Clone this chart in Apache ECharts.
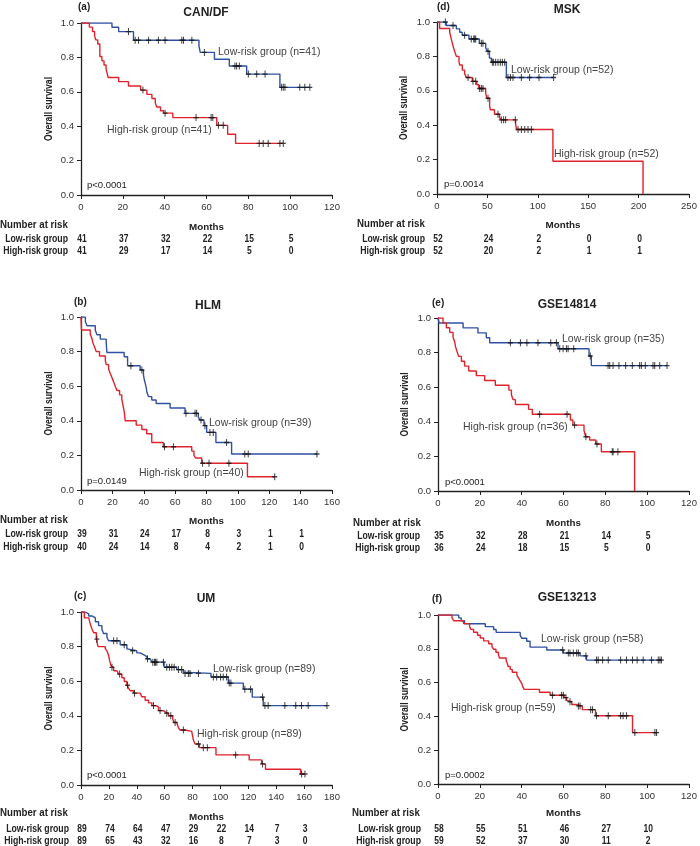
<!DOCTYPE html>
<html><head><meta charset="utf-8">
<script src="https://cdn.jsdelivr.net/npm/echarts@6/dist/echarts.min.js"></script>
<style>html,body{margin:0;padding:0;background:#fff}#c{width:700px;height:846px}</style>
</head><body><div id="c"></div>
<script>
// ---------- (a) CAN/DF ----------
const canLow = [[0,1],[14.8,0.975],[18,0.95],[25.1,0.90],[56.4,0.865],[57,0.829],[63.8,0.789],[70.9,0.75],[79.2,0.703],[95.1,0.626],[109.4,0.626]];
const canLowCens = [22.7,25.9,27.5,32.3,37,40.2,48.2,49,53,59,73.6,74.4,75.7,80,84,88,95.9,96.7,97.5,104.6,107,109.4];
const canHigh = [[0,1],[4,0.976],[5.5,0.951],[6.5,0.927],[7,0.902],[8,0.878],[9,0.805],[10,0.78],[11,0.756],[12,0.732],[12.5,0.707],[13,0.683],[18,0.659],[22.7,0.634],[28.5,0.61],[31.5,0.585],[33.9,0.561],[35.5,0.537],[36.2,0.512],[38,0.49],[39.5,0.476],[43.9,0.45],[64.9,0.405],[70.1,0.353],[73.9,0.30],[96.7,0.30]];
const canHighCens = [29.6,40.2,55,62.2,63,65.7,68,85.2,87.1,89.5,95.1,96.7];
const canRiskTicks = [0,20,40,60,80,100];
const canRiskLow = [41,37,32,22,15,5];
const canRiskHigh = [41,29,17,14,5,0];

// ---------- (d) MSK ----------
const mskLow = [[0,1],[9.3,0.98],[19.2,0.96],[22.5,0.94],[25,0.923],[31.7,0.901],[42,0.876],[48.3,0.85],[50,0.83],[52,0.79],[54,0.766],[68.8,0.677],[115.7,0.677]];
const mskLowCens = [8.3,15.9,27.4,34,36.4,37.4,38.4,44,45.6,50.6,54.9,56.2,58.2,60.5,62.8,64.8,67.1,70.4,72.8,75.4,83.7,91.9,101.2,115.7];
const mskHigh = [[0,1],[2.6,0.962],[12.6,0.94],[14.2,0.90],[15.9,0.86],[17.5,0.83],[19.2,0.80],[21.8,0.77],[22.5,0.75],[25.1,0.72],[27.4,0.70],[29.1,0.677],[35,0.655],[39.5,0.635],[41.5,0.613],[48.3,0.585],[49.5,0.557],[52.2,0.51],[53,0.49],[57,0.464],[62,0.445],[63.5,0.431],[78,0.405],[79,0.375],[115,0.19],[204.4,0]];
const mskHighCens = [30.8,35.7,38.4,42.3,44,45.6,50.6,60.5,63.8,66.1,68.1,77.7,80.4,83.7,87,90.3,93.6];
const mskRiskTicks = [0,50,100,150,200];
const mskRiskLow = [52,24,2,0,0];
const mskRiskHigh = [52,20,2,1,1];

// ---------- (b) HLM ----------
const hlmLow = [[0,1],[2.8,0.974],[3.8,0.949],[9.1,0.923],[10.2,0.897],[12.3,0.872],[16.1,0.846],[16.5,0.795],[27.5,0.77],[29.7,0.718],[37.7,0.694],[39.8,0.665],[40.3,0.64],[41,0.615],[41.6,0.59],[42,0.565],[43,0.54],[45.1,0.52],[47.9,0.50],[56.8,0.474],[66.3,0.443],[74.8,0.42],[76,0.405],[78.4,0.372],[80.1,0.333],[86,0.275],[96,0.208],[150.4,0.208]];
const hlmLowCens = [31.8,38.8,66.9,72.7,73.7,76.5,79,82.2,84.3,92.8,104.4,106.6,150.4];
const hlmHigh = [[0,1],[0.3,0.925],[5.9,0.90],[7,0.875],[7.6,0.85],[8.7,0.825],[9.7,0.80],[11.8,0.775],[15.5,0.75],[16.1,0.725],[17.6,0.70],[18.6,0.675],[19.7,0.65],[20.8,0.625],[21.8,0.60],[22.9,0.575],[24.6,0.55],[26,0.525],[27.1,0.475],[27.6,0.45],[28.2,0.40],[35.2,0.375],[38.8,0.35],[41.9,0.325],[45.1,0.275],[52.5,0.25],[70.6,0.225],[72,0.20],[73,0.185],[76.9,0.155],[106.1,0.077],[123.5,0.077]];
const hlmHighCens = [53.2,58.9,77.5,81.6,94.3,123.5];
const hlmRiskTicks = [0,20,40,60,80,100,120,140];
const hlmRiskLow = [39,31,24,17,8,3,1,1];
const hlmRiskHigh = [40,24,14,8,4,2,1,0];

// ---------- (e) GSE14814 ----------
const g148Low = [[0,1],[0.5,0.971],[12,0.943],[19.1,0.914],[23.1,0.886],[24.7,0.857],[57.4,0.822],[72.2,0.78],[73.3,0.725],[109.5,0.725]];
const g148LowCens = [34.6,39.4,42.5,47.8,53.9,56.6,58.2,59.8,61.4,62.2,64.9,72.8,81.3,82.1,83.7,86.5,89.7,92.9,96.4,97.2,99.1,102.8,103.6,106,109.5];
const g148High = [[0,1],[2.4,0.972],[4,0.944],[5.6,0.917],[7.2,0.889],[8,0.861],[8.4,0.833],[9.1,0.806],[9.9,0.778],[11.2,0.75],[12.7,0.722],[14.7,0.694],[18.3,0.667],[22.3,0.639],[27.4,0.611],[33.9,0.583],[35.1,0.556],[35.9,0.528],[37,0.50],[43.3,0.472],[45.1,0.444],[63.3,0.41],[64.5,0.381],[69.8,0.35],[70.6,0.314],[72.5,0.295],[75.4,0.272],[78.1,0.227],[94,0]];
const g148HighCens = [48.6,61.7,65.3,70.7,76,83.3,83.7,86];
const g148RiskTicks = [0,20,40,60,80,100];
const g148RiskLow = [35,32,28,21,14,5];
const g148RiskHigh = [36,24,18,15,5,0];

// ---------- (c) UM ----------
const umLow = [[0,1],[3.1,0.989],[5.5,0.977],[7.9,0.966],[10.3,0.944],[12.6,0.921],[15,0.899],[16.2,0.876],[18.6,0.854],[19.8,0.834],[28.1,0.811],[32.9,0.787],[33.4,0.776],[40,0.764],[42.4,0.753],[44.8,0.742],[47.2,0.73],[49.6,0.719],[50.8,0.71],[59.6,0.681],[68.7,0.667],[73.4,0.652],[74.2,0.645],[93.2,0.624],[105.6,0.589],[116.4,0.554],[122.8,0.508],[130.7,0.459],[176.4,0.459]];
const umLowCens = [23.4,25.8,31,37,47.7,51.5,52.7,53.4,54.4,59.1,61.5,63.4,65.1,66.8,69.9,72.2,74.6,77,78.2,84.2,94.9,97.3,100.1,102,104.4,106.3,107.5,117.5,121.6,130.2,131.9,134.2,146.2,154,158.1,162.9,176.4];
const umHigh = [[0,1],[2.4,0.966],[5.5,0.955],[6.7,0.93],[7.9,0.90],[9.1,0.88],[11,0.843],[12.2,0.80],[17.4,0.788],[18.6,0.775],[19.8,0.75],[20.5,0.72],[21.5,0.69],[22.1,0.68],[23.4,0.66],[25.8,0.65],[26.9,0.641],[29.3,0.62],[31,0.598],[32.9,0.577],[34.1,0.56],[35.3,0.545],[37.7,0.531],[42.4,0.52],[43.6,0.51],[46,0.49],[48.4,0.475],[50.8,0.459],[53.9,0.45],[55.6,0.43],[59.1,0.42],[60.8,0.415],[62.7,0.40],[65.8,0.38],[66.8,0.361],[68.7,0.35],[69.9,0.33],[71,0.318],[74.6,0.31],[79.4,0.30],[80.6,0.26],[81.8,0.237],[84.9,0.216],[96.8,0.174],[120.6,0.145],[129.5,0.122],[132.3,0.091],[157.5,0.064],[160.6,0.064]];
const umHighCens = [11.4,22.2,27.7,33.4,38.4,52,56.7,61.5,64.4,67.5,73.4,84.2,87.7,90.6,110.9,130.2,158.2,160.6];
const umRiskTicks = [0,20,40,60,80,100,120,140,160];
const umRiskLow = [89,74,64,47,29,22,14,7,3];
const umRiskHigh = [89,65,43,32,16,8,7,3,0];

// ---------- (f) GSE13213 ----------
const g132Low = [[0,1],[9.9,0.983],[11.1,0.966],[12.7,0.948],[22.6,0.931],[26.6,0.914],[27.8,0.897],[39.3,0.879],[40.1,0.862],[42.4,0.845],[44,0.81],[52,0.793],[59.9,0.775],[67.9,0.758],[71,0.733],[106.8,0.733]];
const g132LowCens = [59.6,62.3,63.1,64.7,66.3,67.1,70.7,75.8,76.6,78.7,81.4,87.3,90.1,93,95.2,98.1,102.1,105.3,106.1,106.8];
const g132High = [[0,1],[6.7,0.983],[7.5,0.966],[12.2,0.949],[15.1,0.932],[15.7,0.915],[17,0.898],[18.9,0.88],[20.2,0.864],[21.8,0.847],[24.2,0.83],[25.8,0.813],[26.6,0.797],[27.7,0.78],[28.9,0.763],[29.4,0.746],[32.6,0.729],[33.2,0.712],[33.5,0.695],[34.5,0.678],[35.5,0.661],[37.7,0.644],[38.5,0.627],[39.3,0.61],[40.1,0.593],[40.5,0.576],[41.2,0.56],[48.5,0.543],[53.6,0.525],[60.3,0.511],[61.5,0.495],[62.3,0.487],[63.9,0.47],[66.3,0.462],[69,0.44],[75.3,0.404],[93,0.304],[104.5,0.304]];
const g132HighCens = [54.7,59.1,59.9,61.2,63.1,67.1,67.9,73,73.9,75.8,81.4,87.3,88.5,90.1,94.1,103.7,104.5];
const g132RiskTicks = [0,20,40,60,80,100];
const g132RiskLow = [58,55,51,46,27,10];
const g132RiskHigh = [59,52,37,30,11,2];

// ---------- layout / styling ----------
const BLUE = '#2f51a3', RED = '#e0222c', INK = '#222';
const FONT = "'Liberation Sans', Arial, sans-serif";

const panels = [
  {tag:'(a)', title:'CAN/DF', low:canLow, lowC:canLowCens, high:canHigh, highC:canHighCens,
   lowLabel:'Low-risk group (n=41)', highLabel:'High-risk group (n=41)', p:'p<0.0001',
   xMax:120, xInt:20, rt:canRiskTicks, rl:canRiskLow, rh:canRiskHigh,
   g:{left:81,top:23,width:251,height:172}, tagXY:[78,7], titleXY:[206,13], lowXY:[218,52], highXY:[107,130], pXY:[87,185],
   yNameX:49, monthsGap:27, narX:0, labR:68, narY:225, lowY:239, highY:251},
  {tag:'(d)', title:'MSK', low:mskLow, lowC:mskLowCens, high:mskHigh, highC:mskHighCens,
   lowLabel:'Low-risk group (n=52)', highLabel:'High-risk group (n=52)', p:'p=0.0014',
   xMax:250, xInt:50, rt:mskRiskTicks, rl:mskRiskLow, rh:mskRiskHigh,
   g:{left:437,top:22,width:252,height:172}, tagXY:[437,7], titleXY:[567,10], lowXY:[511,70], highXY:[554,154], pXY:[444,184],
   yNameX:404, monthsGap:26, narX:357, labR:425, narY:224, lowY:239, highY:251},
  {tag:'(b)', title:'HLM', low:hlmLow, lowC:hlmLowCens, high:hlmHigh, highC:hlmHighCens,
   lowLabel:'Low-risk group (n=39)', highLabel:'High-risk group (n=40)', p:'p=0.0149',
   xMax:160, xInt:20, rt:hlmRiskTicks, rl:hlmRiskLow, rh:hlmRiskHigh,
   g:{left:81,top:317,width:251,height:173}, tagXY:[74,302], titleXY:[208,306], lowXY:[209,423], highXY:[139,473], pXY:[87,481],
   yNameX:49, monthsGap:26, narX:0, labR:68, narY:520, lowY:534, highY:547},
  {tag:'(e)', title:'GSE14814', low:g148Low, lowC:g148LowCens, high:g148High, highC:g148HighCens,
   lowLabel:'Low-risk group (n=35)', highLabel:'High-risk group (n=36)', p:'p<0.0001',
   xMax:120, xInt:20, rt:g148RiskTicks, rl:g148RiskLow, rh:g148RiskHigh,
   g:{left:438,top:318,width:251,height:173}, tagXY:[432,303], titleXY:[567,305], lowXY:[562,339], highXY:[463,427], pXY:[445,482],
   yNameX:405, monthsGap:27, narX:353, labR:420, narY:523, lowY:536, highY:548},
  {tag:'(c)', title:'UM', low:umLow, lowC:umLowCens, high:umHigh, highC:umHighCens,
   lowLabel:'Low-risk group (n=89)', highLabel:'High-risk group (n=89)', p:'p<0.0001',
   xMax:180, xInt:20, rt:umRiskTicks, rl:umRiskLow, rh:umRiskHigh,
   g:{left:81,top:612,width:251,height:173}, tagXY:[74,596], titleXY:[206,599], lowXY:[213,669], highXY:[197,734], pXY:[87,775],
   yNameX:49, monthsGap:27, narX:0, labR:69, narY:813, lowY:829, highY:841},
  {tag:'(f)', title:'GSE13213', low:g132Low, lowC:g132LowCens, high:g132High, highC:g132HighCens,
   lowLabel:'Low-risk group (n=58)', highLabel:'High-risk group (n=59)', p:'p=0.0002',
   xMax:120, xInt:20, rt:g132RiskTicks, rl:g132RiskLow, rh:g132RiskHigh,
   g:{left:438,top:615,width:251,height:169}, tagXY:[432,599], titleXY:[567,598], lowXY:[541,639], highXY:[451,708], pXY:[445,775],
   yNameX:405, monthsGap:24, narX:352, labR:421, narY:813, lowY:829, highY:841}
];

function stepAt(steps, t){ let y = steps[0][1]; for (const s of steps){ if (s[0] <= t) y = s[1]; } return y; }
const PLUS = 'path://M-0.2,-1H0.2V-0.2H1V0.2H0.2V1H-0.2V0.2H-1V-0.2H-0.2Z';

function txt(x, y, text, font, fill, align, extra){
  return Object.assign({type:'text', x, y, silent:true,
    style:{text, font, fill, align:align||'left', verticalAlign:'middle', textAlign:align||'left', textVerticalAlign:'middle'}}, extra||{});
}

const option = {animation:false, backgroundColor:'#fff', grid:[], xAxis:[], yAxis:[], series:[], graphic:[]};
panels.forEach((p,i)=>{
  option.grid.push(Object.assign({containLabel:false}, p.g));
  option.xAxis.push({gridIndex:i, type:'value', min:0, max:p.xMax, interval:p.xInt,
    name:'Months', nameLocation:'middle', nameGap:p.monthsGap,
    nameTextStyle:{fontFamily:FONT, fontWeight:'bold', fontSize:9.8, color:INK},
    axisLine:{onZero:false, lineStyle:{color:INK, width:1.3}},
    axisTick:{length:4, lineStyle:{color:INK, width:1}},
    axisLabel:{margin:7, fontFamily:FONT, fontSize:9.5, color:'#333'},
    splitLine:{show:false}});
  option.yAxis.push({gridIndex:i, type:'value', min:0, max:1, interval:0.2,
    axisLine:{show:true, onZero:false, lineStyle:{color:INK, width:1.3}},
    axisTick:{show:true, length:4, lineStyle:{color:INK, width:1}},
    axisLabel:{margin:7, fontFamily:FONT, fontSize:9.5, color:'#333', formatter:v=>v.toFixed(1)},
    splitLine:{show:false}});
  [[p.low,BLUE],[p.high,RED]].forEach(([d,c])=>{
    option.series.push({type:'line', step:'end', xAxisIndex:i, yAxisIndex:i, data:d, symbol:'none',
      lineStyle:{color:c, width:1.4}, z:2, silent:true});
  });
  [[p.lowC,p.low],[p.highC,p.high]].forEach(([cs,st])=>{
    option.series.push({type:'scatter', xAxisIndex:i, yAxisIndex:i, data:cs.map(t=>[t, stepAt(st,t)]),
      symbol:PLUS, symbolSize:[5,7], itemStyle:{color:'#111'}, z:3, silent:true});
  });
  const yMid = p.g.top + p.g.height/2;
  option.graphic.push(txt(p.yNameX, yMid, 'Overall survival', 'bold 10px '+FONT, INK, 'center', {rotation:Math.PI/2, scaleX:0.86}));
  option.graphic.push(txt(p.tagXY[0],p.tagXY[1],p.tag,'bold 10px '+FONT,INK));
  option.graphic.push(txt(p.titleXY[0],p.titleXY[1],p.title,'bold 12px '+FONT,INK,'center'));
  option.graphic.push(txt(p.lowXY[0],p.lowXY[1],p.lowLabel,'10.5px '+FONT,'#444'));
  option.graphic.push(txt(p.highXY[0],p.highXY[1],p.highLabel,'10.5px '+FONT,'#444'));
  option.graphic.push(txt(p.pXY[0],p.pXY[1],p.p,'9.5px '+FONT,'#222'));
  option.graphic.push(txt(p.narX,p.narY,'Number at risk','bold 10.2px '+FONT,INK,'left',{scaleX:0.95}));
  option.graphic.push(txt(p.labR,p.lowY,'Low-risk group','bold 10px '+FONT,INK,'right',{scaleX:0.87}));
  option.graphic.push(txt(p.labR,p.highY,'High-risk group','bold 10px '+FONT,INK,'right',{scaleX:0.87}));
});

const chart = echarts.init(document.getElementById('c'), null, {renderer:'canvas'});
chart.setOption(option);
// numbers at risk, placed under the ticks through the axis scale
panels.forEach((p,i)=>{
  p.rt.forEach((t,k)=>{
    const x = chart.convertToPixel({xAxisIndex:i}, t);
    [[p.rl[k],p.lowY],[p.rh[k],p.highY]].forEach(([v,y])=>{
      option.graphic.push(txt(x+1, y, String(v), 'bold 10px '+FONT, INK, 'center', {scaleX:0.85}));
    });
  });
});
chart.setOption({graphic:option.graphic});
</script></body></html>
